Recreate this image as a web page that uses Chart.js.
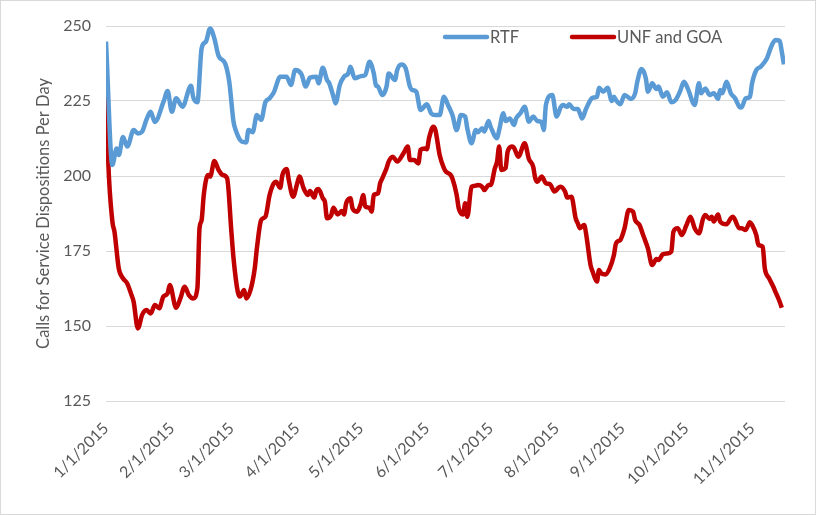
<!DOCTYPE html>
<html>
<head>
<meta charset="utf-8">
<script src="https://cdn.jsdelivr.net/npm/chart.js@4"></script>
<style>
    html, body { margin: 0; padding: 0; background: #fff; }
    #wrap { width: 814px; height: 513px; border: 1px solid #d9d9d9; }
</style>
</head>
<body>
<div id="wrap"><canvas id="dispositionsChart" width="814" height="513"></canvas></div>
<script>
// Month ticks (day of year) and their labels
const tickDays = [0, 31, 59, 90, 120, 151, 181, 212, 243, 273, 304];
const tickLabels = ['1/1/2015', '2/1/2015', '3/1/2015', '4/1/2015', '5/1/2015', '6/1/2015',
    '7/1/2015', '8/1/2015', '9/1/2015', '10/1/2015', '11/1/2015'];

// RTF series (day of year, calls per day)
const rtfDays = [
    0, 3, 5, 6, 8, 10, 13, 15, 17, 19,
    21, 23, 27, 29, 31, 33, 36, 40, 41, 43,
    45, 47, 49, 51, 53, 56, 58, 60, 61, 64,
    66, 67, 69, 71, 73, 75, 77, 79, 82, 85,
    87, 89, 92, 94, 96, 99, 100, 102, 104, 105,
    107, 108, 110, 112, 114, 115, 117, 120, 122, 124,
    126, 127, 128, 130, 132, 133, 136, 137, 139, 141,
    143, 144, 146, 148, 151, 153, 155, 157, 159, 161,
    163, 165, 167, 169, 170, 172, 174, 175, 177, 178,
    180, 181, 184, 185, 187, 188, 190, 192, 193, 195,
    197, 199, 201, 203, 205, 206, 207, 210, 212, 214,
    215, 217, 218, 220, 222, 223, 224, 226, 229, 231,
    232, 234, 236, 238, 239, 240, 242, 244, 247, 249,
    250, 252, 254, 255, 257, 259, 260, 262, 264, 266,
    268, 270, 272, 274, 277, 279, 280, 282, 284, 286,
    288, 289, 290, 292, 294, 296, 298, 299, 301, 303,
    304, 306, 308, 310, 311, 313, 315, 317, 318, 319
];
const rtfValues = [
    244.8, 203.7, 209.2, 207, 213, 209.8, 215.3, 214.2, 214.8, 218.7,
    221.4, 218, 224.6, 228.3, 221.4, 225.9, 223.1, 230.1, 226.4, 224.6,
    242.6, 244.8, 249.2, 245.8, 240, 237.6, 231.4, 218.1, 215.3, 211.4,
    211.2, 215.3, 214.6, 220.3, 218.7, 224.6, 225.9, 227.9, 233.1, 233.1,
    230.3, 235.3, 233.9, 229.8, 232.8, 233.1, 230.9, 236.1, 232, 231,
    226.5, 224.2, 230.3, 233.1, 234.2, 236.4, 232.6, 233.3, 233.7, 238.1,
    234.2, 230.3, 229.8, 227, 229.8, 234.2, 232, 235.3, 237.2, 235.9,
    229.8, 228.7, 228.1, 222, 223.9, 220.9, 220.3, 220.3, 226.4, 223.5,
    220.3, 215.3, 220.3, 219.8, 215.9, 210.9, 215.3, 214.6, 215.9, 214.8,
    218.3, 216.4, 212.6, 215.3, 220.9, 218.3, 219.2, 217, 219.2, 220.9,
    223.1, 218.1, 219.8, 218.3, 217.9, 215.3, 223.7, 227, 219.8, 223,
    223.7, 223.1, 223.9, 222.3, 222.3, 220.9, 219.2, 222.6, 226.1, 226.4,
    229.4, 228.1, 229.4, 225, 226.4, 225.3, 223.9, 227, 225.7, 227.6,
    231.4, 235.7, 232.6, 228.1, 230.9, 229, 229.8, 226.4, 227.9, 224.6,
    225.3, 228, 231.4, 228.7, 223.7, 230.9, 227.6, 229.2, 227, 227.6,
    225.7, 228.7, 227.6, 231.4, 227.6, 225.9, 223.1, 222.8, 225.9, 226.4,
    230.9, 235.3, 236.4, 238.1, 239.2, 243.1, 245.3, 245, 241.4, 237.2
];

// UNF and GOA series (day of year, calls per day)
const unfDays = [
    0, 1, 3, 4, 6, 8, 10, 12, 13, 15,
    17, 19, 21, 23, 25, 27, 29, 30, 33, 35,
    37, 39, 41, 43, 44, 45, 46, 48, 49, 51,
    53, 55, 57, 59, 60, 62, 63, 65, 66, 68,
    70, 71, 73, 75, 77, 79, 80, 82, 83, 85,
    86, 88, 90, 91, 93, 95, 96, 98, 99, 100,
    102, 103, 104, 106, 107, 109, 111, 112, 113, 115,
    116, 118, 120, 121, 122, 124, 125, 126, 128, 129,
    130, 132, 133, 135, 137, 140, 142, 143, 145, 147,
    148, 150, 151, 152, 154, 155, 157, 159, 160, 162,
    163, 165, 166, 168, 169, 170, 172, 174, 175, 177,
    178, 180, 181, 183, 184, 185, 186, 188, 189, 191,
    192, 194, 197, 199, 201, 202, 203, 205, 207, 209,
    211, 213, 214, 216, 217, 219, 221, 222, 223, 225,
    226, 228, 229, 231, 232, 233, 235, 237, 239, 240,
    242, 244, 246, 248, 249, 251, 253, 255, 257, 259,
    260, 262, 264, 266, 267, 269, 271, 273, 275, 277,
    279, 281, 282, 284, 285, 286, 288, 289, 292, 294,
    295, 298, 299, 301, 303, 304, 306, 307, 309, 310,
    312, 314, 315, 317, 318
];
const unfValues = [
    233.7, 205.9, 184.8, 181.4, 169.2, 165.9, 164.2, 160.3, 158.1, 149.2,
    153.7, 155.3, 154.2, 157, 155.9, 159.8, 160.9, 163.7, 156.1, 159.2,
    163.1, 160.3, 159.2, 162.6, 182.6, 185.3, 193.7, 200.3, 199.8, 205,
    202, 200.3, 199.2, 181.4, 172.6, 161.4, 159.8, 162, 159.2, 162,
    169.2, 175.9, 185.3, 186.4, 193.7, 197.6, 198.1, 196.1, 200.3, 202.3,
    198.7, 193.1, 197.6, 199.8, 195.9, 193.7, 195, 192.8, 195.3, 195.7,
    192.6, 191.4, 185.9, 187, 189.4, 187.2, 188.3, 187.2, 190.9, 192.6,
    189.2, 188.1, 190.9, 193.7, 189.8, 189.4, 188.1, 193.7, 194.2, 197.6,
    199.2, 202.6, 204.8, 206.4, 204.8, 207.6, 209.8, 205.3, 205.3, 204.2,
    208.7, 209.2, 208.9, 212.6, 216.4, 215.3, 207, 202.6, 201.4, 200.5,
    199.2, 193.7, 189.2, 187.2, 190.9, 186.4, 196.4, 196.8, 197, 196.4,
    195.3, 197, 197, 202.6, 204.8, 209.8, 202, 202.6, 208.1, 209.8,
    209.4, 206.4, 210.9, 205.7, 203.1, 199.2, 198.1, 199.8, 197.6, 197.2,
    194.8, 196.1, 196.4, 194.8, 192.8, 193.1, 185.9, 184.2, 182.6, 183.7,
    180.3, 170.3, 168.1, 164.8, 168.7, 167.6, 167.2, 169.2, 173.7, 177.6,
    178.7, 182.6, 188.7, 188.1, 185.3, 183.7, 179.8, 175.9, 170.3, 172.3,
    172, 173.9, 174.2, 174.8, 181.4, 182.6, 180.3, 183.4, 186.4, 182.6,
    180.9, 185.9, 187, 185.7, 186.4, 184.8, 187.2, 184.8, 183.9, 185.9,
    186.4, 182.6, 182.6, 182, 184.6, 183.7, 180.3, 177, 176.4, 169.2,
    165.9, 163.1, 161.4, 158.1, 156.1
];

const FONT = 'Lato, "Open Sans", sans-serif';
const TEXT_COLOR = '#595959';
const Y_TITLE = 'Calls for Service Dispositions Per Day';

// Legend inside the plot area and the rotated y-axis title, like the Excel original
const excelDecor = {
    id: 'excelDecor',
    afterDraw(chart) {
        const ctx = chart.ctx;
        const area = chart.chartArea;
        const y = area.top + 11;
        const items = [
            { x: 444, label: 'RTF', color: '#5B9BD5' },
            { x: 571, label: 'UNF and GOA', color: '#C00000' }
        ];
        ctx.save();
        ctx.font = '16.5px ' + FONT;
        ctx.textBaseline = 'middle';
        items.forEach(item => {
            ctx.strokeStyle = item.color;
            ctx.lineWidth = 4.5;
            ctx.lineCap = 'round';
            ctx.beginPath();
            ctx.moveTo(item.x, y);
            ctx.lineTo(item.x + 42, y);
            ctx.stroke();
            ctx.fillStyle = TEXT_COLOR;
            ctx.fillText(item.label, item.x + 45, y + 1);
        });

        // y-axis title
        ctx.translate(43, (area.top + area.bottom) / 2);
        ctx.rotate(-Math.PI / 2);
        ctx.textAlign = 'center';
        ctx.fillText(Y_TITLE, 0, 0);
        ctx.restore();
    }
};

const toPoints = (days, values) => days.map((d, i) => ({ x: d, y: values[i] }));

const ctx = document.getElementById('dispositionsChart').getContext('2d');
new Chart(ctx, {
    type: 'line',
    data: {
        datasets: [{
            label: 'RTF',
            data: toPoints(rtfDays, rtfValues),
            borderColor: '#5B9BD5',
            borderWidth: 4.5,
            pointRadius: 0,
            cubicInterpolationMode: 'monotone',
            fill: false
        }, {
            label: 'UNF and GOA',
            data: toPoints(unfDays, unfValues),
            borderColor: '#C00000',
            borderWidth: 4.5,
            pointRadius: 0,
            cubicInterpolationMode: 'monotone',
            fill: false
        }]
    },
    options: {
        responsive: false,
        animation: false,
        layout: { padding: { top: 25, right: 30, left: 0, bottom: 0 } },
        plugins: {
            legend: { display: false },
            tooltip: { enabled: false }
        },
        scales: {
            x: {
                type: 'linear',
                min: 0,
                max: 319.5,
                grid: { display: false, drawTicks: false },
                border: { display: false },
                afterBuildTicks: scale => {
                    scale.ticks = tickDays.map(v => ({ value: v }));
                },
                afterFit: scale => { scale.height = 113; },
                ticks: {
                    autoSkip: false,
                    minRotation: 45,
                    maxRotation: 45,
                    padding: 18,
                    color: TEXT_COLOR,
                    font: { family: FONT, size: 16 },
                    callback: value => tickLabels[tickDays.indexOf(value)]
                }
            },
            y: {
                min: 125,
                max: 250,
                grid: { color: '#d9d9d9', lineWidth: 1, drawTicks: false },
                border: { display: false },
                afterFit: scale => { scale.width = 105; },
                ticks: {
                    stepSize: 25,
                    padding: 15,
                    color: TEXT_COLOR,
                    font: { family: FONT, size: 16 }
                }
            }
        }
    },
    plugins: [excelDecor]
});
</script>
</body>
</html>
